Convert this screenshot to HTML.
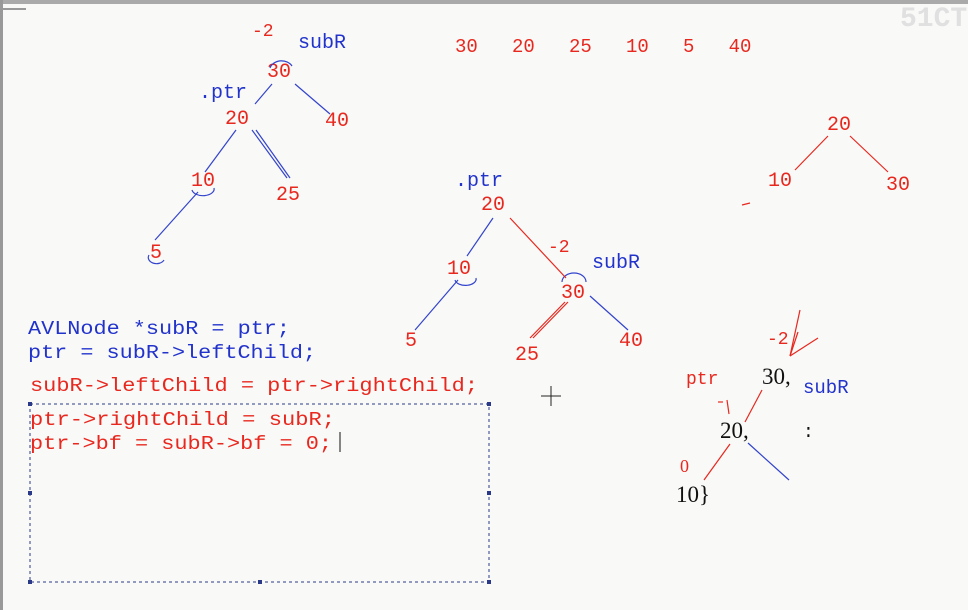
<!DOCTYPE html>
<html><head><style>
html,body{margin:0;padding:0;background:#fbfbfb;width:968px;height:610px;overflow:hidden}
svg{display:block}
text{font-family:"Liberation Mono",monospace}
.r{fill:#e8281e}.b{fill:#2233cc}.k{fill:#111}
</style></head><body>
<svg width="968" height="610" viewBox="0 0 968 610">
<rect x="0" y="0" width="968" height="610" fill="#f9f9f8"/>
<rect x="0" y="0" width="968" height="4" fill="#aaa"/>
<rect x="0" y="0" width="3" height="610" fill="#999"/>
<rect x="0" y="8" width="26" height="2" fill="#999"/>
<text x="900" y="26" font-family="Liberation Sans" font-weight="bold" font-size="28" fill="#e0e0e0">51CT</text>
<g font-size="20">
<text x="252" y="36" class="r" font-size="18">-2</text>
<text x="298" y="48" class="b">subR</text>
<text x="267" y="77" class="r">30</text>
<text x="199" y="98" class="b">.ptr</text>
<text x="225" y="124" class="r">20</text>
<text x="325" y="126" class="r">40</text>
<text x="191" y="186" class="r">10</text>
<text x="276" y="200" class="r">25</text>
<text x="150" y="258" class="r">5</text>
</g>
<g stroke="#3344cc" stroke-width="1.2" fill="none">
<path d="M270 68 A12 10 0 0 1 292 66"/>
<line x1="272" y1="84" x2="255" y2="104"/>
<line x1="295" y1="84" x2="330" y2="114"/>
<line x1="236" y1="130" x2="205" y2="172"/>
<line x1="252" y1="130" x2="287" y2="178"/>
<line x1="256" y1="130" x2="290" y2="178"/>
<line x1="198" y1="192" x2="155" y2="240"/>
<path d="M192 190 A10 6 0 0 0 214 188"/>
<path d="M149 255 A8 6 0 0 0 164 260"/>
</g>
<text x="455" y="52" class="r" font-size="19" font-family="Liberation Sans" xml:space="preserve">30   20   25   10   5   40</text>
<g font-size="20"><text x="827" y="130" class="r">20</text><text x="768" y="186" class="r">10</text><text x="886" y="190" class="r">30</text></g>
<g stroke="#e8281e" stroke-width="1.2"><line x1="828" y1="136" x2="795" y2="170"/><line x1="850" y1="136" x2="888" y2="172"/><line x1="742" y1="205" x2="750" y2="203"/></g>
<g font-size="20">
<text x="455" y="186" class="b">.ptr</text>
<text x="481" y="210" class="r">20</text>
<text x="548" y="252" class="r" font-size="18">-2</text>
<text x="592" y="268" class="b">subR</text>
<text x="447" y="274" class="r">10</text>
<text x="561" y="298" class="r">30</text>
<text x="405" y="346" class="r">5</text>
<text x="619" y="346" class="r">40</text>
<text x="515" y="360" class="r">25</text>
</g>
<g stroke="#3344cc" stroke-width="1.2" fill="none">
<line x1="493" y1="218" x2="467" y2="256"/>
<line x1="458" y1="280" x2="415" y2="330"/>
<line x1="590" y1="296" x2="628" y2="330"/>
<path d="M562 282 A12 9 0 0 1 586 282"/>
<path d="M455 280 A10 6 0 0 0 476 278"/>
</g>
<g stroke="#e8281e" stroke-width="1.2" fill="none">
<line x1="510" y1="218" x2="566" y2="278"/>
<line x1="568" y1="302" x2="533" y2="338"/>
<line x1="565" y1="302" x2="530" y2="338"/>
</g>
<g font-size="19">
<text x="28" y="334" class="b" textLength="262" lengthAdjust="spacingAndGlyphs">AVLNode *subR = ptr;</text>
<text x="28" y="358" class="b" textLength="288" lengthAdjust="spacingAndGlyphs">ptr = subR-&gt;leftChild;</text>
<text x="30" y="391" class="r" textLength="448" lengthAdjust="spacingAndGlyphs">subR-&gt;leftChild = ptr-&gt;rightChild;</text>
<text x="30" y="425" class="r" textLength="305" lengthAdjust="spacingAndGlyphs">ptr-&gt;rightChild = subR;</text>
<text x="30" y="449" class="r" textLength="302" lengthAdjust="spacingAndGlyphs">ptr-&gt;bf = subR-&gt;bf = 0;</text>
</g>
<line x1="340" y1="432" x2="340" y2="452" stroke="#111"/>
<rect x="30" y="404" width="459" height="178" fill="none" stroke="#2a3a88" stroke-dasharray="3,3"/>
<g fill="#2a3a88"><rect x="28" y="402" width="4" height="4"/><rect x="487" y="402" width="4" height="4"/><rect x="28" y="580" width="4" height="4"/><rect x="487" y="580" width="4" height="4"/><rect x="258" y="580" width="4" height="4"/><rect x="28" y="491" width="4" height="4"/><rect x="487" y="491" width="4" height="4"/></g>
<g stroke="#222" stroke-width="1"><line x1="551" y1="386" x2="551" y2="406"/><line x1="541" y1="396" x2="561" y2="396"/></g>
<g font-family="Liberation Serif" font-size="23" class="k">
<text x="762" y="384" class="k" style="font-family:'Liberation Serif'">30,</text>
<text x="720" y="438" class="k" style="font-family:'Liberation Serif'">20,</text>
<text x="676" y="502" class="k" style="font-family:'Liberation Serif'">10}</text>
<text x="803" y="437" class="k" font-size="18">:</text>
</g>
<text x="686" y="384" class="r" font-size="18">ptr</text>
<text x="803" y="393" class="b" font-size="19">subR</text>
<text x="767" y="344" class="r" font-size="18">-2</text>
<text x="680" y="472" class="r" font-size="18" style="font-family:'Liberation Serif'">0</text>
<g stroke="#e8281e" stroke-width="1.2" fill="none">
<line x1="762" y1="390" x2="745" y2="422"/>
<line x1="730" y1="444" x2="704" y2="480"/>
<line x1="800" y1="310" x2="790" y2="356"/>
<line x1="790" y1="356" x2="818" y2="338"/>
<line x1="790" y1="356" x2="798" y2="332"/>
<line x1="727" y1="400" x2="729" y2="414"/>
<line x1="718" y1="402" x2="723" y2="402"/>
</g>
<line x1="748" y1="443" x2="789" y2="480" stroke="#3344cc" stroke-width="1.2"/>
</svg>
</body></html>
